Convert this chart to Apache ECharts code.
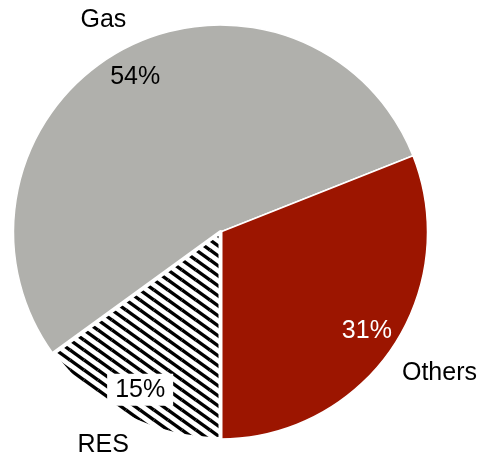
<!DOCTYPE html>
<html>
<head>
<meta charset="utf-8">
<script src="https://cdn.jsdelivr.net/npm/echarts@6/dist/echarts.min.js"></script>
<style>
html,body{margin:0;padding:0;background:#fff;}
#chart{width:477px;height:456px;}
</style>
</head>
<body>
<div id="chart"></div>
<script>
// Data (clockwise order starting at the Gas slice)
const categories = ['Gas', 'Others', 'RES'];
const shares = [54, 31, 15];

// Styling
const FONT = "'Liberation Sans', Arial, sans-serif";
const colorGas = '#B0B0AC';
const colorOthers = '#9C1500';

function stripePattern() {
  const W = 14, H = 10;
  const c = document.createElement('canvas');
  c.width = W; c.height = H;
  const ctx = c.getContext('2d');
  ctx.fillStyle = '#fff';
  ctx.fillRect(0, 0, W, H);
  ctx.strokeStyle = '#000';
  ctx.lineWidth = 3.4;
  for (let ox = -W; ox <= W; ox += W) {
    for (let oy = -H; oy <= H; oy += H) {
      ctx.beginPath();
      ctx.moveTo(ox, oy);
      ctx.lineTo(ox + W, oy + H);
      ctx.stroke();
    }
  }
  return { image: c, repeat: 'repeat' };
}

const sliceColors = [colorGas, colorOthers, stripePattern()];
const pctColors = ['#000', '#fff', '#000'];

const chart = echarts.init(document.getElementById('chart'), null, { renderer: 'canvas' });

const center = [220.5, 232];
const startAngle = 216;

const mainData = categories.map((name, i) => ({
  name: name,
  value: shares[i],
  itemStyle: {
    color: sliceColors[i],
    borderColor: '#fff',
    borderWidth: i === 2 ? 4 : 1.5
  }
}));

const pctData = categories.map((name, i) => ({
  name: name,
  value: shares[i],
  label: i === 2 ? {
    color: pctColors[i],
    backgroundColor: '#fff',
    padding: [4, 8, 3, 8]
  } : { color: pctColors[i] }
}));

const nameData = categories.map((name, i) => ({ name: name, value: shares[i] }));

chart.setOption({
  animation: false,
  series: [
    {
      type: 'pie',
      center: center,
      radius: 207,
      startAngle: startAngle,
      clockwise: true,
      silent: true,
      label: { show: false },
      labelLine: { show: false },
      data: mainData
    },
    {
      type: 'pie',
      center: center,
      radius: [150, 198],
      startAngle: startAngle,
      clockwise: true,
      silent: true,
      itemStyle: { color: 'rgba(0,0,0,0)', borderWidth: 0 },
      label: {
        show: true,
        position: 'inside',
        formatter: '{c}%',
        fontFamily: FONT,
        fontSize: 25
      },
      labelLine: { show: false },
      data: pctData
    },
    {
      type: 'pie',
      center: center,
      radius: [226, 254],
      startAngle: startAngle,
      clockwise: true,
      silent: true,
      itemStyle: { color: 'rgba(0,0,0,0)', borderWidth: 0 },
      label: {
        show: true,
        position: 'inside',
        formatter: '{b}',
        color: '#000',
        fontFamily: FONT,
        fontSize: 25
      },
      labelLine: { show: false },
      labelLayout: function (p) {
        if (p.dataIndex === 1) return { dx: 18, dy: 5 };
        if (p.dataIndex === 2) return { dx: -7, dy: -3 };
        return { dy: 1 };
      },
      data: nameData
    }
  ]
});
</script>
</body>
</html>
